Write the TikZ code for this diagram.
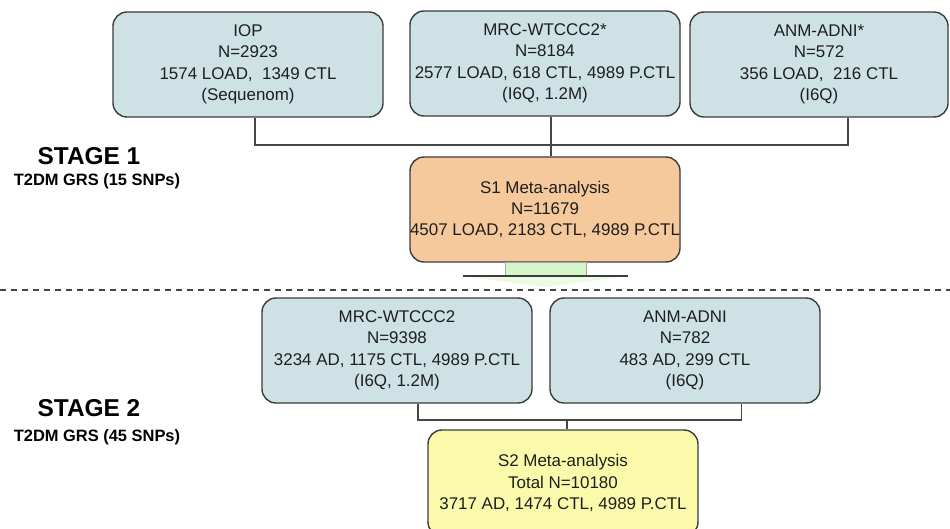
\documentclass[tikz,border=0pt]{standalone}
\usepackage{fontspec}
\setmainfont{Liberation Sans}
\definecolor{bluebox}{RGB}{206,226,230}
\definecolor{orangebox}{RGB}{245,201,155}
\definecolor{yellowbox}{RGB}{250,250,170}
\definecolor{greenarrow}{RGB}{212,246,200}
\definecolor{boxline}{RGB}{60,60,60}
\definecolor{connline}{RGB}{70,70,70}
\definecolor{txt}{RGB}{30,30,30}
\begin{document}
\begin{tikzpicture}[x=1bp,y=-1bp,
  box/.style={draw=boxline, text=txt, line width=1.4bp, rounded corners=14bp, minimum width=270bp, minimum height=105bp, align=center, inner sep=0pt, font=\fontsize{17}{21.5}\selectfont},
  conn/.style={draw=connline, line width=1.3bp},
  stagelbl/.style={font=\bfseries\fontsize{24.5}{28}\selectfont},
  grslbl/.style={font=\bfseries\fontsize{16.5}{18}\selectfont},
  divider/.style={draw=connline, line width=1.4bp, dash pattern=on 6bp off 5bp}]
\clip (0,0) rectangle (950,529);
\fill[white] (0,0) rectangle (950,529);

% Stage 1 cohorts
\node[box, fill=bluebox] (iop) at (248,64.5) {IOP\\N=2923\\1574 LOAD,\ \ 1349 CTL\\(Sequenom)};
\node[box, fill=bluebox] (mrc1) at (545,63.5) {MRC-WTCCC2*\\N=8184\\\makebox[250bp][c]{2577 LOAD, 618 CTL, 4989 P.CTL}\\(I6Q, 1.2M)};
\node[box, fill=bluebox, minimum width=258bp] (anm1) at (819,64.5) {ANM-ADNI*\\N=572\\356 LOAD,\ \ 216 CTL\\(I6Q)};
\node[box, fill=orangebox] (s1) at (545,209.5) {S1 Meta-analysis\\N=11679\\\makebox[250bp][c]{4507 LOAD, 2183 CTL, 4989 P.CTL}};

\coordinate (j1) at (551,145);
\draw[conn] ([xshift=7]iop.south) |- (j1) -| ([xshift=29]anm1.south);
\draw[conn] ([xshift=6]mrc1.south) -- ([xshift=6]s1.north);

% block arrow
\coordinate (ashaftTL) at (505,262);
\coordinate (ashaftBR) at (586,276);
\filldraw[fill=greenarrow, draw=gray!70, line width=0.8bp] (ashaftTL) rectangle (ashaftBR);
\fill[greenarrow!50] (463,276) -- (628,276) -- (545,287) -- cycle;
\draw[boxline, line width=1.6bp] (463,276) -- (628,276);

% divider
\draw[divider] (0,290) -- (950,290);

% stage labels
\node[stagelbl] (st1) at (89,156) {STAGE 1};
\node[grslbl] (g1) at (97,181) {T2DM GRS (15 SNPs)};
\node[stagelbl] (st2) at (89,408) {STAGE 2};
\node[grslbl] (g2) at (97,437) {T2DM GRS (45 SNPs)};

% Stage 2
\node[box, fill=bluebox] (mrc2) at (397,350.5) {MRC-WTCCC2\\N=9398\\\makebox[250bp][c]{3234 AD, 1175 CTL, 4989 P.CTL}\\(I6Q, 1.2M)};
\node[box, fill=bluebox] (anm2) at (685,350.5) {ANM-ADNI\\N=782\\483 AD, 299 CTL\\(I6Q)};
\node[box, fill=yellowbox, minimum height=106bp] (s2) at (563,483) {S2 Meta-analysis\\Total N=10180\\\makebox[250bp][c]{3717 AD, 1474 CTL, 4989 P.CTL}};

\coordinate (j2) at (567,420);
\draw[conn] ([xshift=21]mrc2.south) |- (j2) -| ([xshift=57]anm2.south);
\draw[conn] (j2) -- (j2 |- s2.north);
\end{tikzpicture}
\end{document}
